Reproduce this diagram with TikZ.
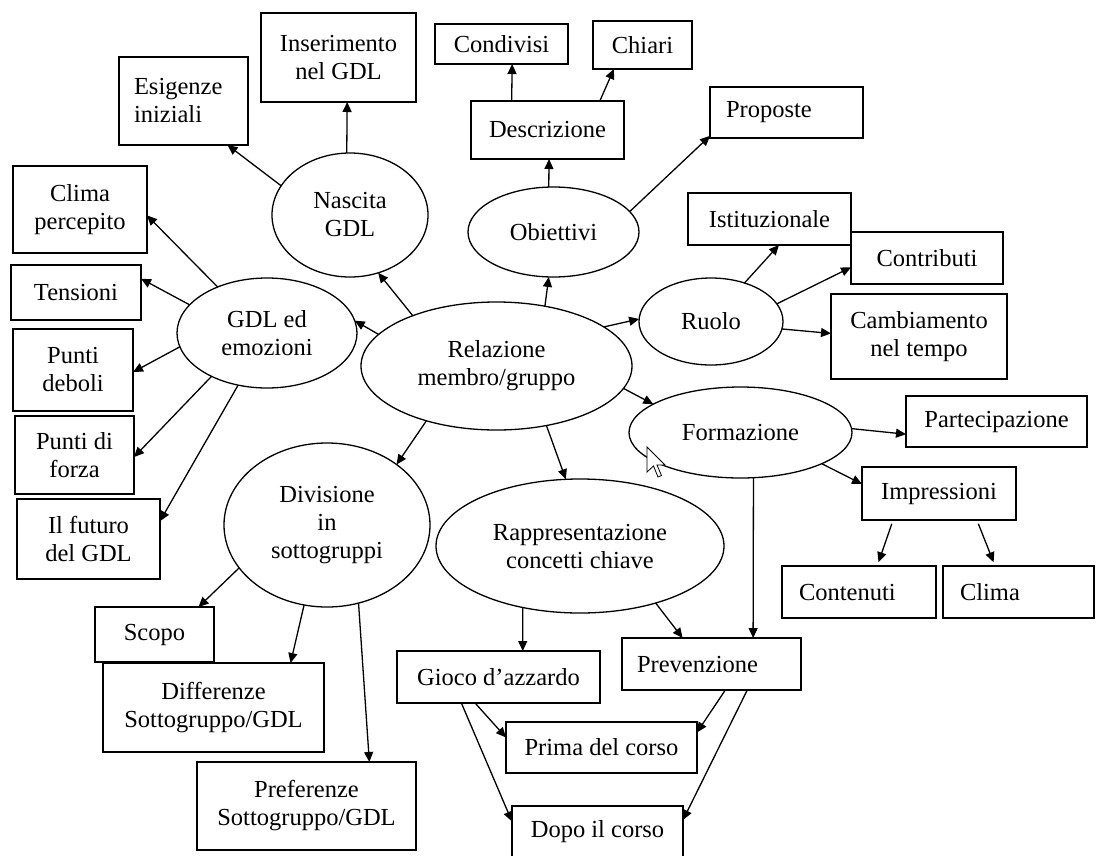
\documentclass[tikz,border=0pt]{standalone}
\usepackage{fontspec}
\setmainfont{Liberation Serif}
\usetikzlibrary{arrows.meta,shapes.geometric}

\begin{document}
\begin{tikzpicture}[x=1pt,y=-1pt,
    box/.style={draw,rectangle,line width=1.3pt,inner sep=0pt,outer sep=0pt,align=center,font=\labelfont},
    lbox/.style={box,align=left,inner xsep=16pt},
    bubble/.style={draw,ellipse,line width=1.3pt,inner sep=0pt,outer sep=0pt,align=center,font=\labelfont},
    link/.style={line width=1.3pt,-{Triangle[length=10pt,width=9pt]}}]
    \pgfmathsetmacro{\boxh}{52}
    \providecommand{\labelfont}{\fontsize{24.5}{28}\selectfont}
    \useasboundingbox (0,0) rectangle (1096,855);
    % ellipses
    \node[bubble,minimum width=271pt,minimum height=128pt] (rela) at (496.5,366) {Relazione\\membro/gruppo};
    \node[bubble,minimum width=156pt,minimum height=124pt] (nasc) at (350,215) {Nascita\\GDL};
    \node[bubble,minimum width=171pt,minimum height=90pt] (obie) at (553.5,232) {Obiettivi};
    \node[bubble,minimum width=180pt,minimum height=110pt] (gdle) at (267,333) {GDL ed\\emozioni};
    \node[bubble,minimum width=144pt,minimum height=87pt] (ruol) at (711,321.5) {Ruolo};
    \node[bubble,minimum width=223pt,minimum height=91pt] (form) at (740.5,432.5) {Formazione};
    \node[bubble,minimum width=206pt,minimum height=164pt] (divi) at (327,525) {Divisione\\in\\sottogruppi};
    \node[bubble,minimum width=288pt,minimum height=134pt] (rapp) at (580,546) {Rappresentazione\\concetti chiave};
    % boxes
    \node[box,minimum width=155pt,minimum height=89pt] (insr) at (338.5,57.5) {Inserimento\\nel GDL};
    \node[lbox,inner xsep=15pt,text width=99pt,minimum height=88pt] (esig) at (183.5,101) {Esigenze\\iniziali};
    \node[box,minimum width=133pt,minimum height=40pt] (cond) at (501.5,44) {Condivisi};
    \node[box,minimum width=99pt,minimum height=48pt] (chia) at (642.5,45) {Chiari};
    \node[box,minimum width=153pt,minimum height=58pt] (desc) at (547.5,130) {Descrizione};
    \node[lbox,text width=121pt,minimum height=51pt] (prop) at (786.5,112.5) {Proposte};
    \node[box,minimum width=134pt,minimum height=87pt] (clip) at (80,209.5) {Clima\\percepito};
    \node[box,minimum width=130pt,minimum height=55pt] (tens) at (76,292.5) {Tensioni};
    \node[box,minimum width=120pt,minimum height=82pt] (pdeb) at (73,370) {Punti\\deboli};
    \node[box,minimum width=119pt,minimum height=78pt] (pfor) at (74.5,455) {Punti di\\forza};
    \node[box,minimum width=143pt,minimum height=80pt] (futu) at (88.5,539) {Il futuro\\del GDL};
    \node[box,minimum width=163pt,minimum height=\boxh] (isti) at (769.5,219) {Istituzionale};
    \node[box,minimum width=152pt,minimum height=\boxh] (cont) at (927,258) {Contributi};
    \node[box,minimum width=176pt,minimum height=85pt] (camb) at (919,336.5) {Cambiamento\\nel tempo};
    \node[box,minimum width=181pt,minimum height=51pt] (part) at (996.5,421.5) {Partecipazione};
    \node[box,minimum width=154pt,minimum height=53pt] (impr) at (939,493.5) {Impressioni};
    \node[lbox,inner xsep=17pt,text width=120pt,minimum height=\boxh] (cnt) at (859,592) {Contenuti};
    \node[lbox,inner xsep=17pt,text width=117pt,minimum height=\boxh] (clim) at (1018.5,592) {Clima};
    \node[box,minimum width=119pt,minimum height=55pt] (scop) at (154.5,634.5) {Scopo};
    \node[box,minimum width=221pt,minimum height=89pt] (diff) at (213.5,707.5) {Differenze\\Sottogruppo/GDL};
    \node[box,minimum width=219pt,minimum height=88pt] (pref) at (306.5,806) {Preferenze\\Sottogruppo/GDL};
    \node[box,minimum width=203pt,minimum height=\boxh] (gioc) at (498.5,677) {Gioco d’azzardo};
    \node[lbox,inner xsep=15pt,text width=149pt,minimum height=\boxh] (prev) at (711.5,664) {Prevenzione};
    \node[box,minimum width=191pt,minimum height=51pt] (prim) at (601.5,747.5) {Prima del corso};
    \node[box,minimum width=171pt,minimum height=\boxh] (dopo) at (597.5,832) {Dopo il corso};
    % connectors
    \draw[link] (rela.51) -- (obie.-96);
    \draw[link] (obie.96) -- (desc.-87);
    \draw[link] (obie.15.5) -- (prop.197);
    \draw[link] (desc.141) -- (cond.-62);
    \draw[link] (desc.29) -- (chia.220);
    \draw[link] (nasc.93) -- (insr.-79);
    \draw[link] (nasc.157) -- (esig.-45);
    \draw[link] (rela.149) -- (nasc.-64);
    \draw[link] (rela.165.5) -- (gdle.8);
    \draw[link] (gdle.137) -- (clip.-5);
    \draw[link] (gdle.160) -- (tens.12);
    \draw[link] (gdle.189.5) -- (pdeb.-2);
    \draw[link] (gdle.218.5) -- (pfor.-2);
    \draw[link] (gdle.241) -- (futu.14);
    \draw[link] (rela.20) -- (ruol.178);
    \draw[link] (ruol.49) -- (isti.-70);
    \draw[link] (ruol.15) -- (cont.187.5);
    \draw[link] (ruol.-6) -- (camb.178.4);
    \draw[link] (rela.-10.6) -- (form.162);
    \draw[link] (form.2) -- (part.188.5);
    \draw[link] (form.-21) -- (impr.173);
    \draw[link] (form.-74.6) -- (prev.32);
    \draw[link,shorten <=4pt,shorten >=4pt] (impr.210) -- (cnt.55);
    \draw[link,shorten <=4pt,shorten >=4pt] (impr.-35) -- (clim.132);
    \draw[link] (rela.218) -- (divi.41);
    \draw[link] (rela.-50) -- (rapp.102);
    \draw[link] (divi.206.6) -- (scop.32);
    \draw[link] (divi.254) -- (diff.30);
    \draw[link] (divi.-68) -- (pref.35.6);
    \draw[link] (rapp.227) -- (gioc.47);
    \draw[link] (rapp.-37) -- (prev.138.6);
    \draw[link] (gioc.228) -- (prim.174);
    \draw[link] (gioc.215.5) -- (dopo.173);
    \draw[link] (prev.-62.6) -- (prim.9);
    \draw[link] (prev.-36) -- (dopo.8);
    % mouse pointer
    \draw[fill=white,line width=0.8pt,line join=miter] (647,447) -- ++(0,25) -- ++(6.5,-6) -- ++(4.5,11) -- ++(3.5,-1.5) -- ++(-4.5,-10.5) -- ++(8,0) -- cycle;
\end{tikzpicture}
\end{document}
